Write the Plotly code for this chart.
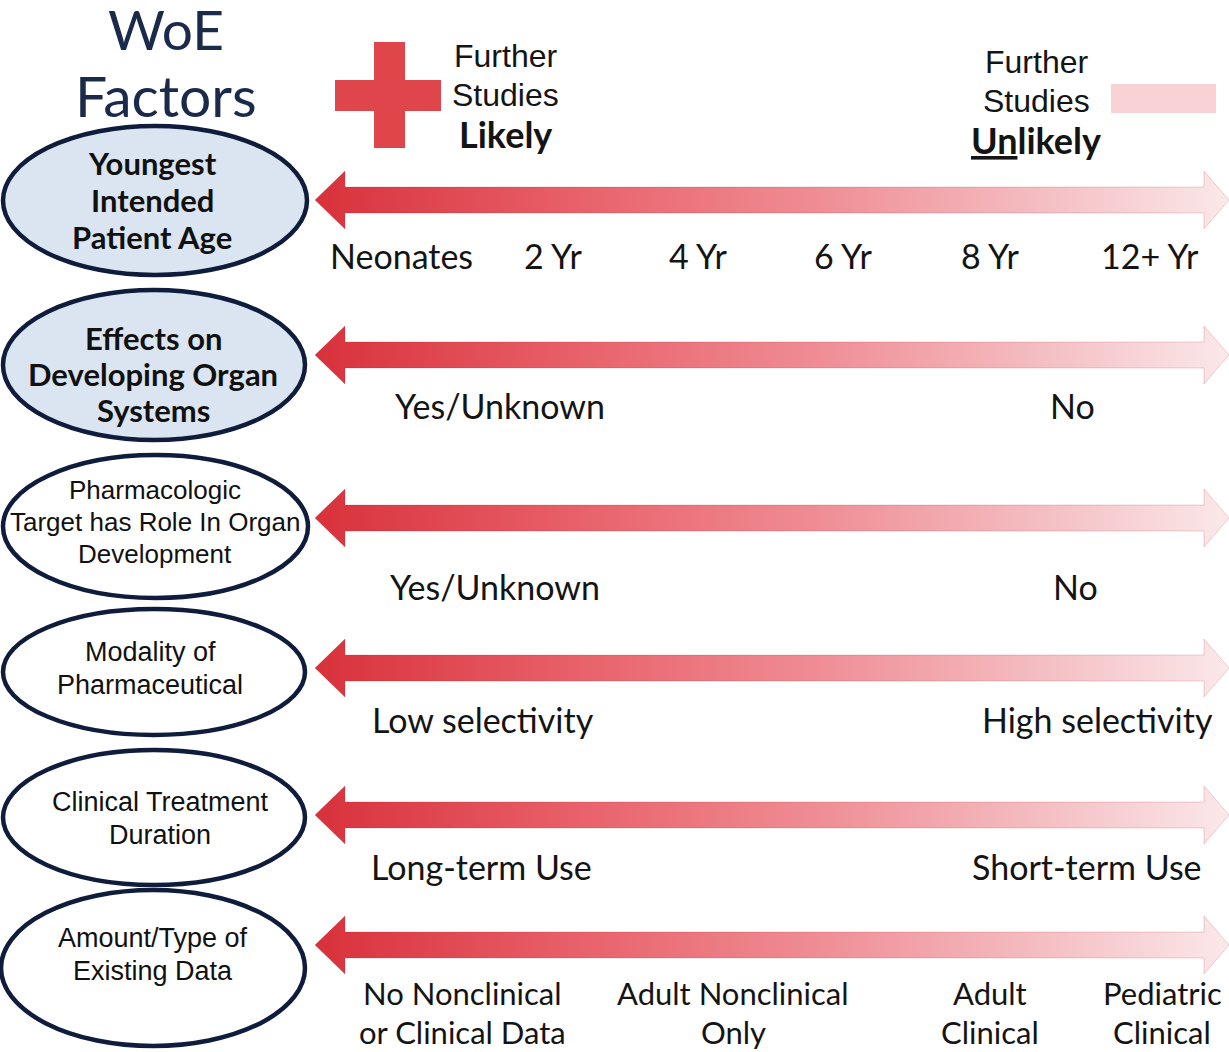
import plotly.graph_objects as go

# ---------------- data ----------------
factors = [
    "Youngest<br>Intended<br>Patient Age",
    "Effects on<br>Developing Organ<br>Systems",
    "Pharmacologic<br>Target has Role In Organ<br>Development",
    "Modality of<br>Pharmaceutical",
    "Clinical Treatment<br>Duration",
    "Amount/Type of<br>Existing Data",
]
factor_bold = [True, True, False, False, False, False]
factor_filled = [True, True, False, False, False, False]

row1_labels = ["Neonates", "2 Yr", "4 Yr", "6 Yr", "8 Yr", "12+ Yr"]
row2_labels = ["Yes/Unknown", "No"]
row3_labels = ["Yes/Unknown", "No"]
row4_labels = ["Low selectivity", "High selectivity"]
row5_labels = ["Long-term Use", "Short-term Use"]
row6_labels = ["No Nonclinical<br>or Clinical Data", "Adult Nonclinical<br>Only",
               "Adult<br>Clinical", "Pediatric<br>Clinical"]

title_lines = ["WoE", "Factors"]
likely_lines = ["Further", "Studies", "<b>Likely</b>"]
unlikely_lines = ["Further", "Studies", "<b><u>Un</u>likely</b>"]

# ---------------- layout geometry ----------------
W, H = 1229, 1052
ellipse_boxes = [(3, 307, 126, 275), (3, 305, 290, 440), (3, 308, 455, 598),
                 (3, 305, 609, 735), (3, 305, 750, 885), (1, 305, 890, 1046)]
ellipse_text_y = [163, 338, 490, 652, 802, 938]
ellipse_text_cx = [152, 153, 155, 150, 160, 153]
ellipse_line_gap = [37, 36, 32, 33, 33, 33]
ellipse_font_size = [31, 31, 26, 27, 27, 27]

arrow_y = [200, 355, 518, 668, 815, 945]
arrow_left, arrow_right = 315, 1229

row_label_x = [
    [401, 553, 698, 843, 990, 1150],
    [500, 1072],
    [495, 1075],
    [483, 1097],
    [481, 1087],
    [462, 733, 990, 1162],
]
row_label_y = [255, 405, 586, 719, 866, 993]
row_font_size = [34, 34, 34, 34, 34, 31]
row_line_gap = 39

label_font = "Lato, Open Sans, sans-serif"
arial = "Liberation Sans, Arial, sans-serif"
ink = "#141414"
navy = "#0f1c3c"

fig = go.Figure()

# arrows with horizontal gradient
shaft_h, head_h, head_l, head_r = 13, 29, 30, 25
for yc in arrow_y:
    L, R = arrow_left, arrow_right
    xs = [L, L + head_l, L + head_l, R - head_r, R - head_r, R, R - head_r, R - head_r,
          L + head_l, L + head_l, L]
    ys = [yc, yc - head_h, yc - shaft_h, yc - shaft_h, yc - head_h, yc, yc + head_h,
          yc + shaft_h, yc + shaft_h, yc + head_h, yc]
    fig.add_trace(go.Scatter(
        x=xs, y=ys, mode="lines", fill="toself",
        line=dict(color="rgba(170,30,40,0.18)", width=1),
        fillgradient=dict(type="horizontal",
                          colorscale=[[0, "#d8313b"], [0.3, "#e9636c"], [0.55, "#ef8d94"],
                                      [0.8, "#f4bfc3"], [1, "#fbe8ea"]]),
        hoverinfo="skip", showlegend=False))

shapes = []
# ellipses
for (x0, x1, y0, y1), filled in zip(ellipse_boxes, factor_filled):
    shapes.append(dict(type="circle", xref="x", yref="y", x0=x0, x1=x1, y0=y0, y1=y1,
                       line=dict(color=navy, width=4.5),
                       fillcolor="#dbe5f1" if filled else "white", layer="above"))
# red plus
plus_color = "#df464c"
shapes.append(dict(type="rect", x0=374, x1=405, y0=42, y1=148, line_width=0, fillcolor=plus_color))
shapes.append(dict(type="rect", x0=335, x1=441, y0=80, y1=111, line_width=0, fillcolor=plus_color))
# light pink bar
shapes.append(dict(type="rect", x0=1111, x1=1216, y0=84, y1=113, line_width=0, fillcolor="#f8d2d5"))

ann = []
def add_text(x, y, text, size, family, color=ink, bold=False):
    ann.append(dict(x=x, y=y, xref="x", yref="y", text=f"<b>{text}</b>" if bold else text,
                    showarrow=False, xanchor="center", yanchor="middle",
                    font=dict(size=size, family=family, color=color)))

# title
add_text(166, 29, title_lines[0], 55, label_font, color="#1b2a4a")
add_text(166, 95, title_lines[1], 57, label_font, color="#1b2a4a")

# legend-like text
for i, t in enumerate(likely_lines):
    add_text(505, 56 + i * 39, t, 32 if i < 2 else 36, arial if i < 2 else label_font)
for i, t in enumerate(unlikely_lines):
    add_text(1036, 62 + i * 39, t, 32 if i < 2 else 36, arial if i < 2 else label_font)

# ellipse texts
for k, txt in enumerate(factors):
    for j, line in enumerate(txt.split("<br>")):
        add_text(ellipse_text_cx[k], ellipse_text_y[k] + j * ellipse_line_gap[k], line,
                 ellipse_font_size[k], label_font if factor_bold[k] else arial,
                 color="#111111", bold=factor_bold[k])

# row labels
row_labels = [row1_labels, row2_labels, row3_labels, row4_labels, row5_labels, row6_labels]
for r, labels in enumerate(row_labels):
    for lab, x in zip(labels, row_label_x[r]):
        for j, line in enumerate(lab.split("<br>")):
            add_text(x, row_label_y[r] + j * row_line_gap, line, row_font_size[r], label_font)

fig.update_layout(
    width=W, height=H, margin=dict(l=0, r=0, t=0, b=0),
    paper_bgcolor="white", plot_bgcolor="white",
    xaxis=dict(range=[0, W], visible=False, fixedrange=True),
    yaxis=dict(range=[H, 0], visible=False, fixedrange=True),
    shapes=shapes, annotations=ann, showlegend=False,
)
fig.write_html("out.html", config={"displayModeBar": False},
               post_script="document.body.style.margin='0';document.body.style.overflow='hidden';")
